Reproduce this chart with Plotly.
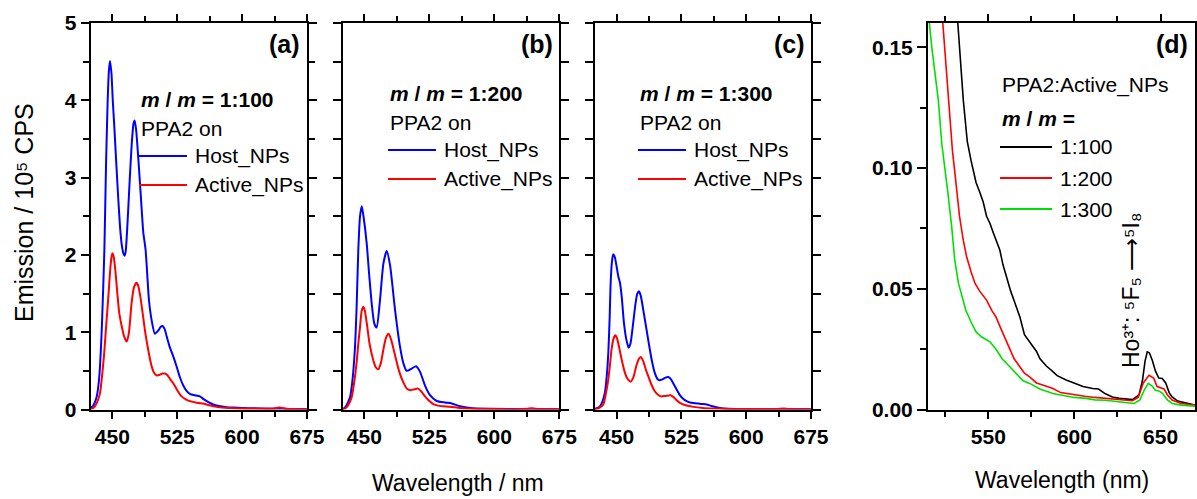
import plotly.graph_objects as go

W, H = 1197, 499

# ---------------- data ----------------
# Panel (a)  m/m = 1:100
a_host_wl = [425, 427.3, 430, 432, 434, 435.8, 438, 440.8, 442.7, 444.5, 446, 447.3, 449, 450.5, 452.3,
             454.5, 456.9, 459, 461, 462.8, 464.2, 465.5, 467.5, 470, 472.5, 474.5, 475.8, 477.5, 480, 483,
             485.8, 488.5, 492.3, 495.5, 499.2, 503, 506, 508, 510.5, 512.7, 516, 520, 524.2, 528, 532,
             535.8, 540, 545, 551.2, 556, 561, 566.5, 573, 581.9, 590, 600, 615, 630, 645, 660, 675]
a_host = [0.02, 0.04, 0.10, 0.17, 0.32, 0.56, 1.1, 2.06, 3.15, 3.95, 4.38, 4.51, 4.35, 4.0, 3.66,
          3.2, 2.72, 2.35, 2.12, 2.02, 1.99, 2.05, 2.4, 2.95, 3.45, 3.70, 3.74, 3.62, 3.25, 2.75,
          2.29, 2.06, 1.42, 1.15, 0.98, 1.02, 1.07, 1.08, 1.04, 0.95, 0.82, 0.70, 0.56, 0.42, 0.31,
          0.24, 0.20, 0.185, 0.17, 0.13, 0.095, 0.065, 0.045, 0.03, 0.025, 0.02, 0.015, 0.012, 0.01, 0.006, 0.003]
a_act_wl = [425, 428, 430, 433, 435.8, 438, 440.4, 443, 445.4, 447.5, 449, 450, 451.5, 453.5, 455.8, 458,
            460.8, 463.5, 466.5, 469, 472.3, 475, 478, 480, 482.5, 485, 488, 491.5, 495, 498, 501.2, 505,
            508, 510.8, 514, 517, 520.4, 525, 530, 535, 539.6, 545, 550, 555, 562, 570.4, 580, 589.6, 605,
            620, 630, 637, 641, 643.5, 647, 652, 660, 675]
a_act = [0.005, 0.02, 0.043, 0.11, 0.215, 0.42, 0.70, 1.1, 1.46, 1.8, 1.97, 2.02, 1.98, 1.8, 1.5, 1.25,
         1.08, 0.95, 0.88, 0.98, 1.38, 1.58, 1.64, 1.6, 1.45, 1.25, 1.0, 0.77, 0.58, 0.48, 0.44, 0.45,
         0.465, 0.465, 0.44, 0.39, 0.34, 0.25, 0.17, 0.13, 0.108, 0.095, 0.085, 0.077, 0.055, 0.034, 0.022, 0.015, 0.011,
         0.009, 0.008, 0.012, 0.024, 0.026, 0.018, 0.01, 0.006, 0.003]

# Panel (b)  m/m = 1:200
b_host_wl = [425, 428, 430.5, 433.5, 436, 439, 441, 443, 445, 447, 449, 452.7, 455.5, 458.5, 461.5, 464.2,
             468, 472, 475.8, 479.6, 485.4, 491.2, 495, 498.8, 504.6, 509.6, 514.2, 520, 525.8, 533.5, 543,
             550.8, 560.4, 572, 595, 640, 675]
b_host = [0.0, 0.03, 0.08, 0.16, 0.35, 0.77, 1.3, 2.06, 2.5, 2.63, 2.5, 2.15, 1.75, 1.37, 1.11, 1.06,
          1.41, 1.89, 2.05, 1.87, 1.29, 0.81, 0.60, 0.50, 0.53, 0.56, 0.49, 0.31, 0.185, 0.11, 0.09,
          0.078, 0.043, 0.02, 0.01, 0.006, 0.003]
b_act_wl = [425, 427.7, 431, 435.4, 438, 441, 443, 445, 447, 448.8, 450.5, 453, 456, 460, 463, 466, 469, 472,
            475, 478, 481, 485, 490, 495, 499, 502.7, 507, 512, 516, 520, 525, 529.6, 535, 540, 548.8, 560,
            572, 600, 630, 638, 643, 648, 660, 675]
b_act = [0.0, 0.013, 0.05, 0.16, 0.33, 0.6, 0.85, 1.07, 1.28, 1.33, 1.28, 1.1, 0.85, 0.65, 0.55, 0.52, 0.6,
         0.78, 0.93, 0.98, 0.9, 0.72, 0.5, 0.35, 0.27, 0.25, 0.26, 0.27, 0.23, 0.17, 0.11, 0.07, 0.05, 0.042,
         0.035, 0.02, 0.01, 0.006, 0.005, 0.01, 0.017, 0.01, 0.004, 0.002]

# Panel (c)  m/m = 1:300
c_host_wl = [425, 428, 430.7, 433.5, 436.5, 438.5, 440.4, 442, 443, 444.5, 446.1, 448, 450, 452, 453.9, 456,
             458, 458.7, 461, 463.9, 466, 469, 472, 474, 475.9, 478, 481, 484.7, 487.5, 490.5, 494, 497, 499,
             503, 506, 509.8, 513, 516, 519.5, 523, 527, 531, 535, 540.7, 548, 554.2, 560, 569.6, 580, 600,
             640, 675]
c_host = [0.01, 0.02, 0.04, 0.1, 0.22, 0.42, 0.73, 1.2, 1.6, 1.9, 2.01, 1.97, 1.85, 1.72, 1.64, 1.45,
          1.18, 1.1, 0.92, 0.80, 0.85, 1.1, 1.38, 1.5, 1.53, 1.47, 1.28, 1.03, 0.84, 0.65, 0.48, 0.40, 0.38,
          0.39, 0.41, 0.42, 0.39, 0.33, 0.26, 0.19, 0.14, 0.108, 0.09, 0.082, 0.072, 0.065, 0.045, 0.02, 0.01,
          0.006, 0.005, 0.002]
c_act_wl = [425, 426.8, 430, 434.6, 437.5, 440.4, 442.5, 444.2, 446.5, 448.5, 450.5, 453, 455.8, 459, 462,
            466.2, 469.5, 472.5, 475.5, 478.2, 481, 484, 486.7, 490, 494, 498, 501.3, 506, 512.5, 516, 519.5,
            523.3, 530, 538.8, 550, 562, 580, 620, 636, 643, 650, 675]
c_act = [0.0, 0.003, 0.02, 0.065, 0.2, 0.39, 0.6, 0.78, 0.92, 0.96, 0.92, 0.8, 0.65, 0.5, 0.41, 0.36,
         0.42, 0.55, 0.65, 0.68, 0.62, 0.51, 0.43, 0.33, 0.24, 0.19, 0.17, 0.175, 0.185, 0.16, 0.12, 0.086,
         0.055, 0.034, 0.02, 0.013, 0.007, 0.005, 0.006, 0.012, 0.006, 0.002]

# Panel (d)  PPA2:Active_NPs, zoom on the Ho3+ band
d_100_wl = [520, 527, 530, 532.3, 535.5, 537.8, 540, 542.9, 545, 547, 549, 551, 553, 555, 556.7, 558.5, 560,
            561.5, 563, 565, 568.3, 571, 573, 576, 578, 580, 583.7, 587, 590, 595.2, 600, 605, 610.6, 614, 618,
            622, 626, 630, 633.7, 637.5, 639.5, 641, 642.3, 643.5, 645.2, 647, 649, 651, 653, 655, 656.7, 660,
            664.4, 670]
d_100 = [0.30, 0.22, 0.185, 0.16, 0.128, 0.111, 0.103, 0.094, 0.09, 0.086, 0.080, 0.077, 0.073, 0.069,
         0.066, 0.06, 0.056, 0.0522, 0.049, 0.045, 0.0384, 0.031, 0.029, 0.0265, 0.024, 0.021, 0.018, 0.016,
         0.014, 0.0122, 0.011, 0.0095, 0.0087, 0.0085, 0.0065, 0.0052, 0.0046, 0.0042, 0.0041, 0.006, 0.012,
         0.020, 0.0239, 0.0235, 0.0204, 0.016, 0.013, 0.0128, 0.011, 0.007, 0.0052, 0.0035, 0.0028, 0.0018]
d_200_wl = [518, 521, 523.6, 526.8, 529.2, 530.3, 533.3, 535.5, 537.5, 540, 542.3, 545, 547, 549, 552, 554.4,
            557, 560, 562.5, 565, 568, 571, 574, 578, 582, 587.5, 592, 596, 601, 606, 612, 618, 625, 630,
            633.7, 637, 640, 643.3, 646, 648, 650, 652, 654, 656.7, 662, 670]
d_200 = [0.22, 0.18, 0.16, 0.128, 0.107, 0.100, 0.08, 0.07, 0.063, 0.057, 0.0522, 0.049, 0.047, 0.0453,
         0.041, 0.0384, 0.034, 0.029, 0.0246, 0.021, 0.018, 0.015, 0.0135, 0.011, 0.01, 0.0087, 0.007, 0.0065,
         0.0059, 0.0055, 0.005, 0.0046, 0.0042, 0.0038, 0.0036, 0.005, 0.011, 0.0142, 0.013, 0.0095, 0.0091,
         0.0085, 0.006, 0.0039, 0.0025, 0.0018]
d_300_wl = [512, 515.8, 517.2, 519, 521, 523, 524.9, 526.5, 528.8, 530.5, 532.7, 535, 537, 540.4, 543, 546.2,
            549, 551, 554.8, 558, 562.5, 566, 570, 574, 580, 587.5, 595, 600, 606.7, 612, 618, 626, 630, 634.6,
            638, 640.5, 642.9, 645, 647, 649, 651, 654, 656.7, 662, 670]
d_300 = [0.22, 0.16, 0.15, 0.14, 0.128, 0.11, 0.100, 0.09, 0.0754, 0.062, 0.0522, 0.046, 0.041, 0.0356,
         0.032, 0.030, 0.029, 0.028, 0.0246, 0.021, 0.0177, 0.015, 0.012, 0.0108, 0.0085, 0.0066, 0.0055,
         0.005, 0.0046, 0.004, 0.0038, 0.0032, 0.0028, 0.0025, 0.004, 0.008, 0.0108, 0.0098, 0.008, 0.0077,
         0.0068, 0.004, 0.0025, 0.0018, 0.0014]

abc_xticks = [450, 525, 600, 675]
abc_xminor = [487.5, 562.5, 637.5]
abc_yticks = [0, 1, 2, 3, 4, 5]
abc_yminor = [0.5, 1.5, 2.5, 3.5, 4.5]
d_xticks = [550, 600, 650]
d_xminor = [525, 575, 625]
d_yticks = [0, 0.05, 0.10, 0.15]
d_yticklabels = ["0.00", "0.05", "0.10", "0.15"]
d_yminor = [0.025, 0.075, 0.125]

BLUE, RED, BLACK, GREEN = "#0000ff", "#ff0000", "#000000", "#00e000"
FONT = "Liberation Sans, Arial, sans-serif"

# ---------------- helpers ----------------
def px(x):
    return x / W

def py(y):
    return 1 - y / H

fig = go.Figure()

panels = [("x", "y", a_host_wl, a_host, a_act_wl, a_act),
          ("x2", "y2", b_host_wl, b_host, b_act_wl, b_act),
          ("x3", "y3", c_host_wl, c_host, c_act_wl, c_act)]
for xa, ya, hw, hv, aw, av in panels:
    fig.add_trace(go.Scatter(x=hw, y=hv, xaxis=xa, yaxis=ya, mode="lines",
                             line=dict(color=BLUE, width=2, shape="spline", smoothing=0.6)))
    fig.add_trace(go.Scatter(x=aw, y=av, xaxis=xa, yaxis=ya, mode="lines",
                             line=dict(color=RED, width=2, shape="spline", smoothing=0.6)))

for wl, val, col in [(d_100_wl, d_100, BLACK), (d_200_wl, d_200, RED), (d_300_wl, d_300, GREEN)]:
    fig.add_trace(go.Scatter(x=wl, y=val, xaxis="x4", yaxis="y4", mode="lines",
                             line=dict(color=col, width=1.6)))

ydom = [py(409.5), py(23)]
xdoms = [[px(90.7), px(307)], [px(342.7), px(559.3)], [px(595), px(811)], [px(928), px(1195)]]

tickfont = dict(family=FONT, size=21, color="black", weight="bold")
common = dict(showline=True, linewidth=2, linecolor="black", mirror="ticks", ticks="outside",
              tickwidth=2, tickcolor="black", showgrid=False, zeroline=False, tickfont=tickfont,
              automargin=False)

layout = dict(width=W, height=H, margin=dict(l=0, r=0, t=0, b=0), plot_bgcolor="white",
              paper_bgcolor="white", showlegend=False)

for i in range(3):
    sfx = "" if i == 0 else str(i + 1)
    layout["xaxis" + sfx] = dict(common, domain=xdoms[i], range=[425, 675], tickvals=abc_xticks, ticklen=7,
                                 anchor="y" + sfx,
                                 minor=dict(tickvals=abc_xminor, ticklen=5, tickwidth=2, ticks="outside",
                                            tickcolor="black"))
    if i == 0:
        layout["yaxis"] = dict(common, domain=ydom, range=[0, 5], tickvals=abc_yticks, ticklen=8,
                               anchor="x",
                               minor=dict(tickvals=abc_yminor, ticklen=6, tickwidth=2, ticks="outside",
                                          tickcolor="black"))
    else:
        # unlabeled panels: all ticks drawn as minor ticks so no empty labels are created
        layout["yaxis" + sfx] = dict(common, domain=ydom, range=[0, 5], tickvals=[], ticklen=8,
                                     anchor="x" + sfx, showticklabels=False,
                                     minor=dict(tickvals=sorted(abc_yticks + abc_yminor), ticklen=8,
                                                tickwidth=2, ticks="outside", tickcolor="black"))

layout["xaxis4"] = dict(common, domain=xdoms[3], range=[515, 670], tickvals=d_xticks, ticklen=7, anchor="y4",
                        minor=dict(tickvals=d_xminor, ticklen=5, tickwidth=2, ticks="outside", tickcolor="black"))
layout["yaxis4"] = dict(common, domain=ydom, range=[0, 0.16], tickvals=d_yticks, ticktext=d_yticklabels,
                        ticklen=9, anchor="x4",
                        minor=dict(tickvals=d_yminor, ticklen=6, tickwidth=2, ticks="outside", tickcolor="black"))

fig.update_layout(**layout)

ann = []
def text(x, y, s, size=21, xanchor="left", angle=0, bold=False):
    ann.append(dict(x=px(x), y=py(y), xref="paper", yref="paper", text=s, showarrow=False,
                    xanchor=xanchor, yanchor="middle", textangle=angle,
                    font=dict(family=FONT, size=size, color="black", weight="bold" if bold else "normal")))

shapes = []
def seg(x0, x1, y, col):
    shapes.append(dict(type="line", xref="paper", yref="paper", x0=px(x0), x1=px(x1), y0=py(y), y1=py(y),
                       line=dict(color=col, width=2)))

# axis titles (unicode super/subscripts)
text(24, 213, "Emission / 10\u2075 CPS", size=25, xanchor="center", angle=-90)
text(458, 483, "Wavelength / nm", size=23, xanchor="center")
text(1062, 480, "Wavelength (nm)", size=23, xanchor="center")

# panel letters
text(302, 44, "(a)", size=25, xanchor="right", bold=True)
text(555, 44, "(b)", size=25, xanchor="right", bold=True)
text(807, 44, "(c)", size=25, xanchor="right", bold=True)
text(1190, 44, "(d)", size=25, xanchor="right", bold=True)

# legends a-c
for (lx, ty, ratio) in [(139, 100, "1:100"), (388, 94, "1:200"), (638, 94, "1:300")]:
    text(lx, ty, "<i>m</i> / <i>m</i> = " + ratio, bold=True)
    text(lx, ty + 28, "PPA2 on")
    seg(lx, lx + 48, ty + 56, BLUE)
    text(lx + 54, ty + 56, "Host_NPs")
    seg(lx, lx + 48, ty + 85, RED)
    text(lx + 54, ty + 85, "Active_NPs")

# legend d
text(1000, 85, "PPA2:Active_NPs")
text(1000, 118, "<i>m</i> / <i>m</i> =", bold=True)
for yy, lab, col in [(147, "1:100", BLACK), (178, "1:200", RED), (209, "1:300", GREEN)]:
    seg(1000, 1052, yy, col)
    text(1058, yy, lab)

text(1131, 290, "Ho\u00b3\u207a: \u2075F\u2085 \u27f6\u2075I\u2088",
     size=23, xanchor="center", angle=-90)

fig.update_layout(annotations=ann, shapes=shapes)
fig.write_html("out.html")
